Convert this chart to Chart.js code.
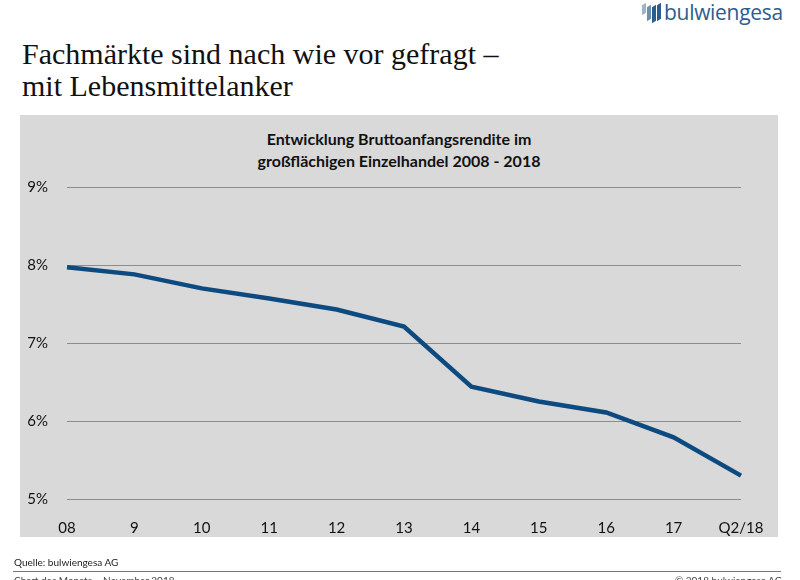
<!DOCTYPE html>
<html>
<head>
<meta charset="utf-8">
<script src="https://cdn.jsdelivr.net/npm/chart.js@4"></script>
<style>
  html, body { margin: 0; padding: 0; background: #fff; }
  body { width: 800px; height: 580px; position: relative; overflow: hidden; font-family: Lato, "Open Sans", sans-serif; }
  #headline { position: absolute; left: 22px; top: 38px; font-family: "Liberation Serif", "DejaVu Serif", serif; font-size: 30px; line-height: 32px; color: #111; }
  #panel { position: absolute; left: 20px; top: 115px; width: 758px; height: 422px; background: #d9d9d9; }
  #chartTitle { position: absolute; left: 20px; top: 128px; width: 758px; text-align: center; font-weight: bold; font-size: 16px; line-height: 22px; color: #111; }
  #wrap { position: absolute; left: 0; top: 0; width: 800px; height: 580px; }
  #source { position: absolute; left: 14px; top: 556px; font-size: 10px; color: #222; }
  #rule { position: absolute; left: 13px; top: 571px; width: 768px; height: 1px; background: #777; }
  #footL { position: absolute; left: 14px; top: 574px; font-size: 10px; color: #444; }
  #footR { position: absolute; right: 18px; top: 574px; font-size: 10px; color: #444; }
  #logo { position: absolute; left: 640px; top: 0px; height: 24px; }
  #logo .txt { position: absolute; left: 24px; top: -2px; font-family: "Open Sans", sans-serif; font-size: 21px; color: #2c5d8f; letter-spacing: -0.3px; }
  #logo .bar { position: absolute; width: 4px; background: #2c5d8f; transform: skewY(-30deg); }
</style>
</head>
<body>
<div id="logo">
  <div class="bar" style="left:2px;top:4px;height:10px;background:#9fb4c8"></div>
  <div class="bar" style="left:7px;top:6px;height:14px;background:#6f8fb0"></div>
  <div class="bar" style="left:12px;top:6px;height:16px"></div>
  <div class="bar" style="left:17px;top:4px;height:16px"></div>
  <span class="txt">bulwiengesa</span>
</div>
<div id="headline">Fachmärkte sind nach wie vor gefragt –<br>mit Lebensmittelanker</div>
<div id="panel"></div>
<div id="chartTitle">Entwicklung Bruttoanfangsrendite im<br>großflächigen Einzelhandel 2008 - 2018</div>
<div id="wrap"><canvas id="chart" width="800" height="580"></canvas></div>
<div id="source">Quelle: bulwiengesa AG</div>
<div id="rule"></div>
<div id="footL">Chart des Monats – November 2018</div>
<div id="footR">© 2018 bulwiengesa AG</div>
<script>
const years = ['08', '9', '10', '11', '12', '13', '14', '15', '16', '17', 'Q2/18'];
const rendite = [7.97, 7.88, 7.70, 7.57, 7.43, 7.21, 6.44, 6.25, 6.11, 5.79, 5.30];
const yTicks = [5, 6, 7, 8, 9];

document.addEventListener('DOMContentLoaded', function () {
    const textColor = '#111';
    const tickFont = { family: 'Lato, "Open Sans", sans-serif', size: 15 };

    new Chart(document.getElementById('chart'), {
        type: 'line',
        data: {
            labels: years,
            datasets: [{
                label: 'Bruttoanfangsrendite',
                data: rendite,
                borderColor: '#0d4a80',
                borderWidth: 4.5,
                pointRadius: 0,
                tension: 0,
                fill: false
            }]
        },
        options: {
            responsive: false,
            animation: false,
            layout: { padding: { left: 0, right: 59, top: 187, bottom: 0 } },
            plugins: {
                legend: { display: false },
                tooltip: { enabled: false }
            },
            scales: {
                x: {
                    offset: false,
                    grid: { display: false },
                    border: { display: false },
                    ticks: { color: textColor, font: tickFont, padding: 12, maxRotation: 0, autoSkip: false },
                    afterFit: s => { s.height = 81; }
                },
                y: {
                    min: yTicks[0],
                    max: yTicks[yTicks.length - 1],
                    afterBuildTicks: s => { s.ticks = yTicks.map(v => ({ value: v })); },
                    grid: { color: '#8c8c8c', lineWidth: 1, drawTicks: false },
                    border: { display: false },
                    ticks: { color: textColor, font: tickFont, padding: 19, callback: v => v + '%' },
                    afterFit: s => { s.width = 67; }
                }
            }
        }
    });
});
</script>
</body>
</html>
